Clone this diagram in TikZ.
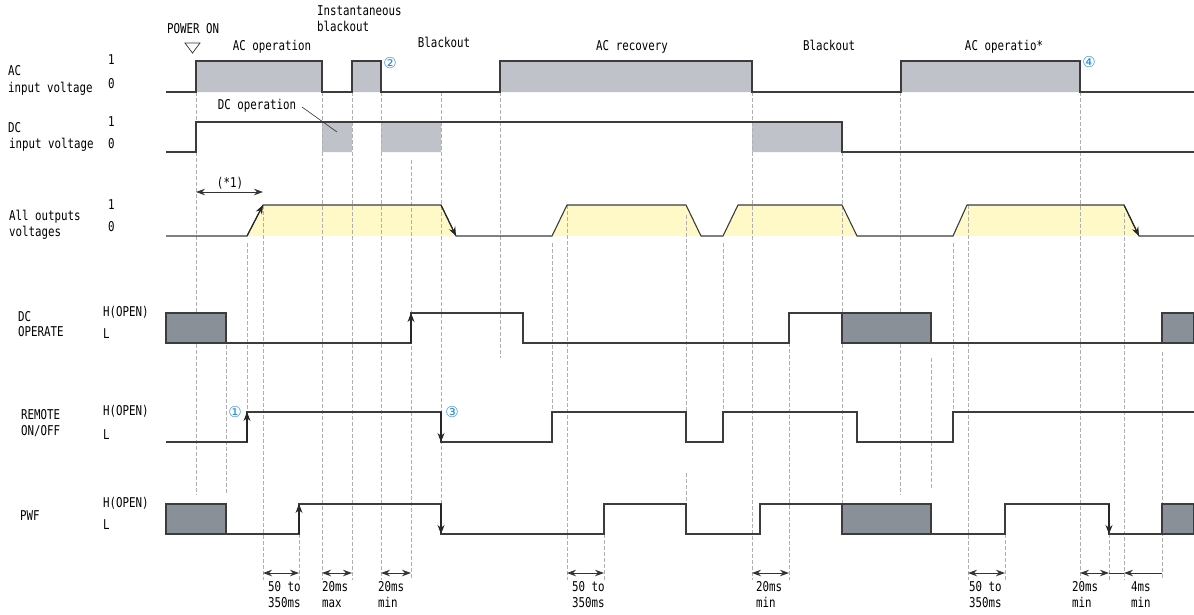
\documentclass[tikz,border=0pt]{standalone}
\usepackage{fontspec}
\setmainfont{DejaVu Sans Mono}[FakeStretch=0.8]
\newfontfamily\circfont{DejaVu Sans}
\usetikzlibrary{arrows.meta}
\definecolor{acfill}{RGB}{191,195,201}
\definecolor{darkfill}{RGB}{138,144,151}
\definecolor{yelfill}{RGB}{255,249,200}
\definecolor{wavecol}{RGB}{60,60,60}
\definecolor{guidecol}{RGB}{175,175,175}
\definecolor{circblue}{RGB}{45,140,215}
\begin{document}
\begin{tikzpicture}[x=1pt,y=-1pt,
  font=\fontsize{13.5}{15}\selectfont,
  wave/.style={draw=wavecol, line width=1.1pt, line join=miter},
  guide/.style={draw=guidecol, line width=0.6pt, dash pattern=on 4pt off 2pt},
  tipend/.style={draw=black!85, line width=1.1pt, -{Stealth[length=9pt,width=7pt]}},
  dimarrow/.style={draw=black!80, line width=0.9pt, {Stealth[length=9pt,width=6.5pt]}-{Stealth[length=9pt,width=6.5pt]}},
  lbl/.style={inner sep=0pt, anchor=mid west},
  ctr/.style={inner sep=0pt, anchor=mid},
  circ/.style={inner sep=0pt, anchor=mid, text=circblue, font=\circfont\fontsize{15}{15}\selectfont}]
\useasboundingbox (0,0) rectangle (1194,614);

% ---- fills ----
\fill[acfill] (196,61) rectangle (322,92) (352,61) rectangle (381,92)
  (500,61) rectangle (752,92) (901,61) rectangle (1080,92);
\fill[acfill] (322,122) rectangle (352,152) (381,122) rectangle (441,152)
  (752,122) rectangle (842,152);
\fill[yelfill] (247,236)--(263,205)--(441,205)--(456,236)--cycle
  (552,236)--(567,205)--(686,205)--(701,236)--cycle
  (723,236)--(738,205)--(842,205)--(857,236)--cycle
  (953,236)--(967,205)--(1124,205)--(1139,236)--cycle;

% ---- guides ----
\foreach \x/\a/\b in {196/92/495, 226/345/495, 247/243/412, 263/205/580, 299/504/580,
  322/92/580, 352/92/580, 381/92/580, 411/160/580, 441/92/534, 500/92/358,
  552/243/412, 567/205/580, 604/504/580, 686/215/412, 686/473/504, 723/243/412,
  752/92/580, 789/343/580, 842/152/504, 900/92/495, 931/358/488, 953/243/412,
  968/205/580, 1005/504/580, 1080/92/580, 1109/534/580, 1124/213/580, 1162/352/580}
  \draw[guide] (\x,\a) -- (\x,\b);

% ---- AC input ----
\draw[wave] (166,92)--(196,92)--(196,61)--(322,61)--(322,92)--(352,92)--(352,61)--(381,61)
  --(381,92)--(500,92)--(500,61)--(752,61)--(752,92)--(901,92)--(901,61)--(1080,61)
  --(1080,92)--(1194,92);
% ---- DC input ----
\draw[wave] (166,152)--(196,152)--(196,122)--(842,122)--(842,152)--(1194,152);
% ---- outputs ----
\draw[wave] (166,236)--(247,236)--(263,205)--(441,205)--(456,236)--(552,236)--(567,205)
  --(686,205)--(701,236)--(723,236)--(738,205)--(842,205)--(857,236)--(953,236)
  --(967,205)--(1124,205)--(1139,236)--(1194,236);
\draw[tipend] (247,236)--(263,205);
\draw[tipend] (441,205)--(456,236);
\draw[tipend] (1124,205)--(1139,236);
% ---- DC OPERATE ----
\filldraw[fill=darkfill, draw=wavecol, line width=1.1pt] (166,313) rectangle (226,343);
\filldraw[fill=darkfill, draw=wavecol, line width=1.1pt] (842,313) rectangle (931,343);
\filldraw[fill=darkfill, draw=wavecol, line width=1.1pt] (1162,313) rectangle (1194,343);
\draw[wave] (226,343)--(411,343)--(411,313)--(523,313)--(523,343)--(789,343)--(789,313)--(842,313);
\draw[wave] (931,343)--(1162,343);
\draw[tipend] (411,343)--(411,313);
% ---- REMOTE ON/OFF ----
\draw[wave] (166,442)--(247,442)--(247,412)--(441,412)--(441,442)--(552,442)--(552,412)
  --(686,412)--(686,442)--(723,442)--(723,412)--(857,412)--(857,442)--(953,442)
  --(953,412)--(1194,412);
\draw[tipend] (247,442)--(247,412);
\draw[tipend] (441,412)--(441,442);
% ---- PWF ----
\filldraw[fill=darkfill, draw=wavecol, line width=1.1pt] (166,504) rectangle (226,534);
\filldraw[fill=darkfill, draw=wavecol, line width=1.1pt] (842,504) rectangle (931,534);
\filldraw[fill=darkfill, draw=wavecol, line width=1.1pt] (1162,504) rectangle (1194,534);
\draw[wave] (226,534)--(299,534)--(299,504)--(441,504)--(441,534)--(604,534)--(604,504)
  --(686,504)--(686,534)--(760,534)--(760,504)--(842,504);
\draw[wave] (931,534)--(1005,534)--(1005,504)--(1109,504)--(1109,534)--(1162,534);
\draw[tipend] (299,534)--(299,504);
\draw[tipend] (441,504)--(441,534);
\draw[tipend] (1109,504)--(1109,534);

% ---- dimension arrows ----
\draw[dimarrow] (196,192)--(263,192);
\foreach \a/\b in {263/299, 322/352, 381/411, 567/604, 752/789, 968/1005, 1080/1109}
  \draw[dimarrow] (\a,573)--(\b,573);
\draw[draw=black!80, line width=0.9pt] (1109,573)--(1124,573);
\draw[draw=black!80, line width=0.9pt, -{Stealth[length=9pt,width=6.5pt]}] (1162,573)--(1124,573);

\foreach \x/\p/\q in {268/50 to/350ms, 322/20ms/max, 378/20ms/min, 572/50 to/350ms,
  756/20ms/min, 969/50 to/350ms, 1072/20ms/min, 1131/4ms/min}{
  \node[lbl] at (\x,589) {\p};
  \node[lbl] at (\x,605) {\q};
}
\node[ctr] at (230,185) {(*1)};

% ---- left labels ----
\node[lbl] at (8,73) {AC};
\node[lbl] at (8,90) {input voltage};
\node[lbl] at (8,130) {DC};
\node[lbl] at (9,146) {input voltage};
\node[lbl] at (108,62) {1};
\node[lbl] at (108,86) {0};
\node[lbl] at (108,124) {1};
\node[lbl] at (108,146) {0};
\node[lbl] at (9,218) {All outputs};
\node[lbl] at (9,234) {voltages};
\node[lbl] at (108,207) {1};
\node[lbl] at (108,229) {0};
\node[lbl] at (18,319) {DC};
\node[lbl] at (18,334) {OPERATE};
\node[lbl] at (103,314) {H(OPEN)};
\node[lbl] at (103,336) {L};
\node[lbl] at (21,417) {REMOTE};
\node[lbl] at (21,433) {ON/OFF};
\node[lbl] at (103,413) {H(OPEN)};
\node[lbl] at (103,437) {L};
\node[lbl] at (20,518) {PWF};
\node[lbl] at (103,505) {H(OPEN)};
\node[lbl] at (103,527) {L};

% ---- top labels ----
\node[lbl] at (167,31) {POWER ON};
\draw[draw=black!80, line width=0.7pt] (185,43)--(200,43)--(192.5,53)--cycle;
\node[ctr] at (272,48) {AC operation};
\node[lbl] at (317,13) {Instantaneous};
\node[lbl] at (317,29) {blackout};
\node[ctr] at (444,45) {Blackout};
\node[ctr] at (632,48) {AC recovery};
\node[ctr] at (829,48) {Blackout};
\node[ctr] at (1004,48) {AC operatio*};
\node[ctr] (dcop) at (257,107) {DC operation};
\coordinate (dcopend) at (337,132);
\draw[draw=black!80, line width=0.6pt] (302,107)--(dcopend);

\node[circ] at (390,66) {②};
\node[circ] at (1089,65) {④};
\node[circ] at (235,415) {①};
\node[circ] at (452,415) {③};
\end{tikzpicture}
\end{document}
